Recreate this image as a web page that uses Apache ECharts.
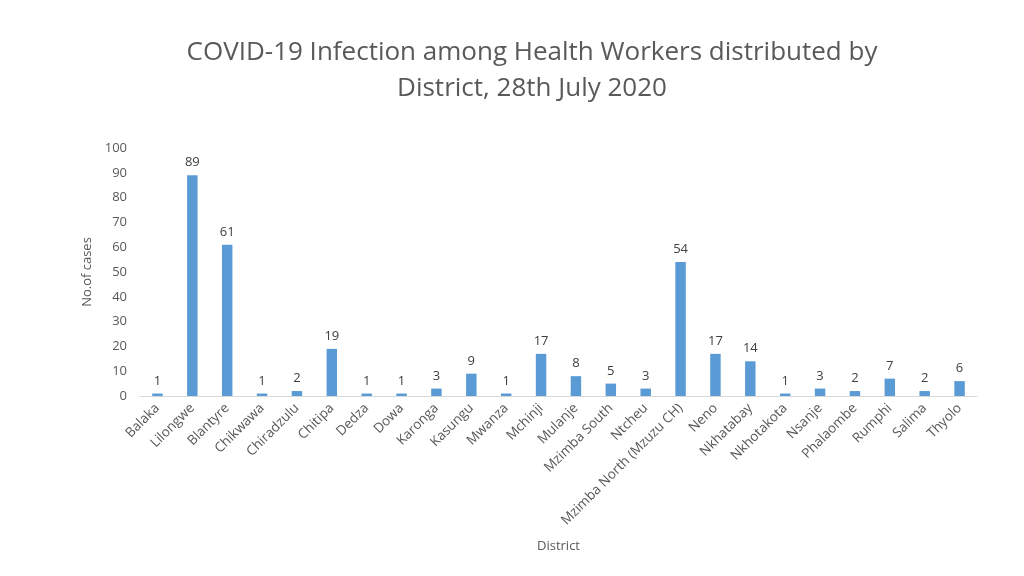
<!DOCTYPE html>
<html>
<head>
<meta charset="utf-8">
<script src="https://cdn.jsdelivr.net/npm/echarts@6/dist/echarts.min.js"></script>
<style>html,body{margin:0;padding:0;background:#fff}#c{width:1024px;height:576px}</style>
</head>
<body>
<div id="c"></div>
<script>
const districts = ["Balaka","Lilongwe","Blantyre","Chikwawa","Chiradzulu","Chitipa","Dedza","Dowa","Karonga","Kasungu","Mwanza","Mchinji","Mulanje","Mzimba South","Ntcheu","Mzimba North (Mzuzu CH)","Neno","Nkhatabay","Nkhotakota","Nsanje","Phalaombe","Rumphi","Salima","Thyolo"];
const cases = [1,89,61,1,2,19,1,1,3,9,1,17,8,5,3,54,17,14,1,3,2,7,2,6];
const titleText = "COVID-19 Infection among Health Workers distributed by\nDistrict, 28th July 2020";
const font = "'Open Sans', 'Liberation Sans', sans-serif";
const chart = echarts.init(document.getElementById('c'));
chart.setOption({
  animation: false,
  title: {
    text: titleText,
    left: 527, top: 30, textAlign: 'center',
    textStyle: { fontFamily: font, fontSize: 26, fontWeight: 'normal', color: '#595959', lineHeight: 36, align: 'center' }
  },
  grid: { left: 140, right: 47, top: 148, bottom: 180, containLabel: false },
  xAxis: {
    type: 'category', data: districts,
    name: 'District', nameLocation: 'middle', nameGap: 144,
    nameTextStyle: { fontFamily: font, fontSize: 13, color: '#595959' },
    axisLine: { lineStyle: { color: '#d9d9d9' } },
    axisTick: { show: false },
    axisLabel: { rotate: 45, interval: 0, fontFamily: font, fontSize: 13.5, color: '#595959', margin: 10 }
  },
  yAxis: {
    type: 'value', min: 0, max: 100, interval: 10,
    name: 'No.of cases', nameLocation: 'middle', nameGap: 46,
    nameTextStyle: { fontFamily: font, fontSize: 13, color: '#595959' },
    axisLine: { show: false }, axisTick: { show: false },
    splitLine: { show: false },
    axisLabel: { fontFamily: font, fontSize: 13, color: '#595959', margin: 13 }
  },
  series: [{
    type: 'bar', data: cases, barWidth: '30%',
    itemStyle: { color: '#5b9bd5' },
    label: { show: true, position: 'top', distance: 6, fontFamily: font, fontSize: 13, color: '#404040' }
  }]
});
</script>
</body>
</html>
